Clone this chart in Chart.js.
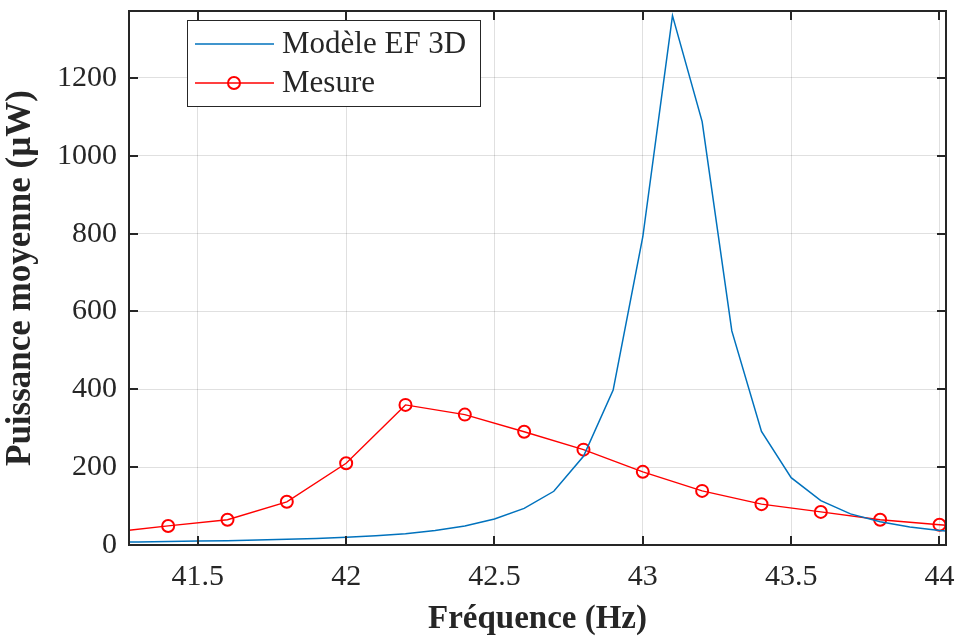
<!DOCTYPE html>
<html>
<head>
<meta charset="utf-8">
<script src="https://cdn.jsdelivr.net/npm/chart.js@4.4.1/dist/chart.umd.min.js"></script>
<style>
    html, body { margin: 0; padding: 0; background: #ffffff; }
    #wrap { width: 959px; height: 639px; }
</style>
</head>
<body>
<div id="wrap"><canvas id="powerChart"></canvas></div>
<script>
// Modèle EF 3D (every 0.1 Hz)
const modelFreq = [41.2, 41.3, 41.4, 41.5, 41.6, 41.7, 41.8, 41.9, 42.0, 42.1, 42.2, 42.3, 42.4, 42.5, 42.6,
    42.7, 42.8, 42.9, 43.0, 43.1, 43.2, 43.3, 43.4, 43.5, 43.6, 43.7, 43.8, 43.9, 44.0, 44.1];
const modelPower = [7, 8, 9, 10, 11, 13, 15, 17, 20, 24, 29, 37, 49, 67, 94,
    138, 228, 398, 792, 1360, 1088, 550, 292, 173, 114, 80, 60, 46, 37, 31];

// Mesure (every 0.2 Hz)
const measFreq = [41.2, 41.4, 41.6, 41.8, 42.0, 42.2, 42.4, 42.6, 42.8, 43.0, 43.2, 43.4, 43.6, 43.8, 44.0, 44.2];
const measPower = [32, 49, 65, 111, 210, 360, 335, 291, 245, 188, 139, 105, 85, 65, 52, 42];

const xTicks = [41.5, 42, 42.5, 43, 43.5, 44];
const yTicks = [0, 200, 400, 600, 800, 1000, 1200];

const textColor = '#262626';
const serif = "'Liberation Serif', 'Times New Roman', serif";

function toPoints(xs, ys) {
    return xs.map((x, i) => ({ x: x, y: ys[i] }));
}

// box around the plot with inward ticks on all four sides
const boxPlugin = {
    id: 'matlabBox',
    afterDatasetsDraw(chart) {
        const ctx = chart.ctx;
        const a = chart.chartArea;
        const xs = chart.scales.x;
        const ys = chart.scales.y;
        const len = 9;
        ctx.save();
        ctx.strokeStyle = textColor;
        ctx.lineWidth = 2;
        ctx.strokeRect(a.left, a.top, a.right - a.left, a.bottom - a.top);
        ctx.beginPath();
        xTicks.forEach(v => {
            const px = Math.round(xs.getPixelForValue(v));
            ctx.moveTo(px, a.bottom); ctx.lineTo(px, a.bottom - len);
            ctx.moveTo(px, a.top); ctx.lineTo(px, a.top + len);
        });
        yTicks.forEach(v => {
            const py = Math.round(ys.getPixelForValue(v));
            ctx.moveTo(a.left, py); ctx.lineTo(a.left + len, py);
            ctx.moveTo(a.right, py); ctx.lineTo(a.right - len, py);
        });
        ctx.stroke();
        ctx.restore();
    }
};

// legend box inside the plot, top left
const legendPlugin = {
    id: 'boxLegend',
    afterDraw(chart) {
        const ctx = chart.ctx;
        const bx = 187, by = 20, bw = 293, bh = 86;
        ctx.save();
        ctx.fillStyle = '#ffffff';
        ctx.fillRect(bx, by, bw, bh);
        ctx.strokeStyle = textColor;
        ctx.lineWidth = 1;
        ctx.strokeRect(bx + 0.5, by + 0.5, bw, bh);
        ctx.font = '31px ' + serif;
        ctx.textBaseline = 'middle';
        chart.data.datasets.forEach((ds, i) => {
            const ly = by + 24 + i * 39;
            ctx.strokeStyle = ds.borderColor;
            ctx.lineWidth = ds.borderWidth;
            ctx.beginPath();
            ctx.moveTo(bx + 8, ly);
            ctx.lineTo(bx + 87, ly);
            ctx.stroke();
            if (ds.pointRadius > 0) {
                ctx.lineWidth = ds.pointBorderWidth;
                ctx.beginPath();
                ctx.arc(bx + 47, ly, ds.pointRadius, 0, Math.PI * 2);
                ctx.stroke();
            }
            ctx.fillStyle = textColor;
            ctx.fillText(ds.label, bx + 95, ly + 1);
        });
        ctx.restore();
    }
};

document.addEventListener('DOMContentLoaded', function() {
    const ctx = document.getElementById('powerChart').getContext('2d');
    new Chart(ctx, {
        type: 'line',
        data: {
            datasets: [{
                label: 'Modèle EF 3D',
                data: toPoints(modelFreq, modelPower),
                borderColor: '#0072BD',
                borderWidth: 1.5,
                pointRadius: 0,
                tension: 0,
                fill: false
            },
            {
                label: 'Mesure',
                data: toPoints(measFreq, measPower),
                borderColor: '#ff0000',
                borderWidth: 1.4,
                pointRadius: 6,
                pointBorderWidth: 2,
                pointBorderColor: '#ff0000',
                pointBackgroundColor: 'rgba(0,0,0,0)',
                tension: 0,
                fill: false
            }]
        },
        options: {
            responsive: true,
            maintainAspectRatio: false,
            animation: false,
            layout: {
                padding: { top: 11, right: 13, left: 0, bottom: 0 }
            },
            plugins: {
                legend: { display: false },
                tooltip: { enabled: false }
            },
            scales: {
                x: {
                    type: 'linear',
                    min: 41.268,
                    max: 44.022,
                    afterFit: function(scale) {
                        scale.height = 94;
                        scale.paddingLeft = 0;
                        scale.paddingRight = 0;
                    },
                    afterBuildTicks: function(scale) {
                        scale.ticks = xTicks.map(v => ({ value: v }));
                    },
                    ticks: {
                        color: textColor,
                        font: { family: serif, size: 30 },
                        padding: 14,
                        maxRotation: 0,
                        callback: function(value) { return String(value); }
                    },
                    grid: {
                        color: 'rgba(0, 0, 0, 0.12)',
                        drawTicks: false
                    },
                    border: { display: false },
                    title: {
                        display: true,
                        text: 'Fréquence (Hz)',
                        color: textColor,
                        font: { family: serif, size: 33, weight: 'bold' },
                        padding: { top: 0, bottom: 0 }
                    }
                },
                y: {
                    type: 'linear',
                    min: 0,
                    max: 1372,
                    afterFit: function(scale) {
                        scale.width = 129;
                        scale.paddingTop = 0;
                        scale.paddingBottom = 0;
                    },
                    afterBuildTicks: function(scale) {
                        scale.ticks = yTicks.map(v => ({ value: v }));
                    },
                    ticks: {
                        color: textColor,
                        font: { family: serif, size: 30 },
                        padding: 12,
                        callback: function(value) { return String(value); }
                    },
                    grid: {
                        color: 'rgba(0, 0, 0, 0.12)',
                        drawTicks: false
                    },
                    border: { display: false },
                    title: {
                        display: true,
                        text: 'Puissance moyenne (µW)',
                        color: textColor,
                        font: { family: serif, size: 35, weight: 'bold' },
                        padding: { top: 0, bottom: 0 }
                    }
                }
            }
        },
        plugins: [boxPlugin, legendPlugin]
    });
});
</script>
</body>
</html>
